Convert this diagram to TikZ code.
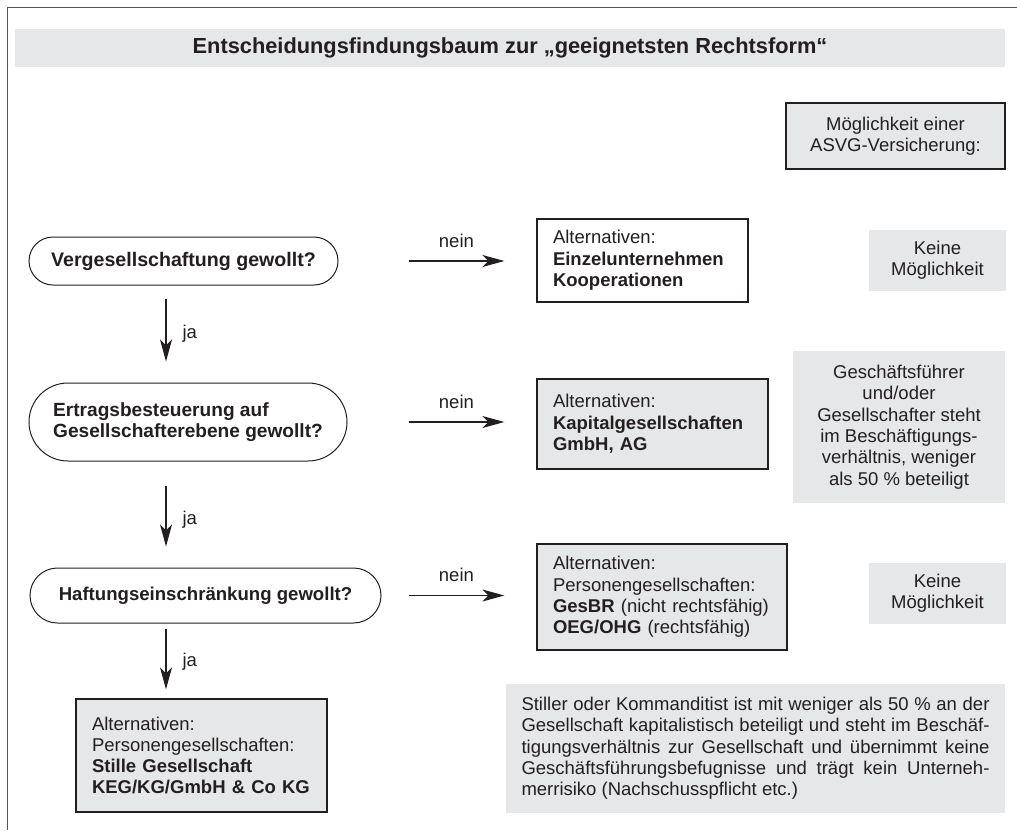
\documentclass[tikz,border=0pt]{standalone}
\usepackage{fontspec}
\setmainfont{Liberation Sans}
\usetikzlibrary{arrows.meta,calc}
\definecolor{boxgray}{HTML}{E6E7E8}
\definecolor{ink}{HTML}{231F20}
\definecolor{framegray}{HTML}{555555}
\tikzset{
  base/.style={font=\fontsize{18.5}{21.3}\selectfont, text=ink},
  question/.style={base, rectangle, draw=ink, line width=1pt, fill=white, inner xsep=0pt, inner ysep=0pt},
  altbox/.style={base, rectangle, draw=ink, line width=1.3pt, align=left, inner xsep=16pt, inner ysep=0pt},
  graybox/.style={altbox, fill=boxgray},
  whitebox/.style={altbox, fill=white},
  infobox/.style={base, rectangle, fill=boxgray, align=center, inner sep=0pt},
  arr/.style={draw=ink, line width=1.2pt, -{Stealth[length=22pt,width=12pt,inset=6pt]}},
  lbl/.style={base, inner sep=2pt},
}
\begin{document}
\begin{tikzpicture}[x=1pt,y=-1pt]
\useasboundingbox (0,0) rectangle (1017,830);
\draw[framegray, line width=1.8pt] (7.5,830) -- (7.5,7.5) -- (1017,7.5);

% title
\node[infobox, minimum width=990pt, minimum height=38pt, font=\fontsize{21.8}{26}\selectfont\bfseries] (title) at (510,48)
  {Entscheidungsfindungsbaum zur „geeignetsten Rechtsform“};

% right header
\node[graybox, align=center, minimum width=219pt, minimum height=66pt] (asvg) at (895.5,136)
  {Möglichkeit einer\\ASVG-Versicherung:};

% questions
\node[question, rounded corners=24pt, minimum width=309pt, minimum height=48pt,
      font=\fontsize{19.6}{21.5}\selectfont\bfseries] (q1) at (183.5,261) {Vergesellschaftung gewollt?};
\node[question, rounded corners=39pt, align=left, minimum width=318pt, minimum height=78pt,
      font=\fontsize{19.1}{20.5}\selectfont\bfseries] (q2) at (188,422) {Ertragsbesteuerung auf\\Gesellschafterebene gewollt?};
\node[question, rounded corners=27.5pt, minimum width=351pt, minimum height=55pt,
      font=\fontsize{18.6}{21}\selectfont\bfseries] (q3) at (205.5,595.5) {Haftungseinschränkung gewollt?};

% alternatives
\node[whitebox, text width=179pt, minimum height=83pt] (a1) at (642.5,260.5)
  {Alternativen:\\\textbf{Einzelunternehmen}\\\textbf{Kooperationen}};
\node[graybox, text width=199pt, minimum height=90pt] (a2) at (652.5,424)
  {Alternativen:\\\textbf{Kapitalgesellschaften}\\\textbf{GmbH, AG}};
\node[graybox, text width=218pt, minimum height=106pt] (a3) at (662,597)
  {Alternativen:\\Personengesellschaften:\\\textbf{GesBR}~(nicht~rechtsfähig)\\\textbf{OEG/OHG}~(rechtsfähig)};
\node[graybox, text width=219pt, minimum height=113pt] (a4) at (201.5,755.5)
  {Alternativen:\\Personengesellschaften:\\\textbf{Stille Gesellschaft}\\\textbf{KEG/KG/GmbH~\&~Co~KG}};

% ASVG info
\node[infobox, minimum width=137pt, minimum height=61pt] (k1) at (937.5,260.5) {Keine\\Möglichkeit};
\node[infobox, minimum width=212pt, minimum height=152pt] (gf) at (899,427)
  {Geschäftsführer\\und/oder\\Gesellschafter steht\\im Beschäftigungs-\\verhältnis, weniger\\als 50~\% beteiligt};
\node[infobox, minimum width=137pt, minimum height=61pt] (k2) at (937.5,593.5) {Keine\\Möglichkeit};
\node[infobox, align=left, minimum width=499pt, minimum height=129pt] (st) at (755.5,748.5)
  {\makebox[468pt][s]{Stiller oder Kommanditist ist mit weniger als 50~\% an der}\\
   \makebox[468pt][s]{Gesellschaft kapitalistisch beteiligt und steht im Beschäf-}\\
   \makebox[468pt][s]{tigungsverhältnis zur Gesellschaft und übernimmt keine}\\
   \makebox[468pt][s]{Geschäftsführungsbefugnisse und trägt kein Unterneh-}\\
   merrisiko (Nachschusspflicht etc.)};

% nein arrows
\draw[arr] ($(q1.east)+(70,0)$) -- ($(q1.east -| a1.west)+(-32,0)$)
  node[lbl, midway, anchor=base, yshift=14pt] {nein};
\draw[arr] ($(q2.east)+(61,0)$) -- ($(q2.east -| a2.west)+(-32,0)$)
  node[lbl, midway, anchor=base, yshift=14pt] {nein};
\draw[arr] ($(q3.east)+(27,0)$) -- ($(q3.east -| a3.west)+(-32,0)$)
  node[lbl, midway, anchor=base, yshift=14pt] {nein};

% ja arrows
\coordinate (jx) at (166,0);
\draw[arr] ($(q1.south -| jx)+(0,13)$) -- ($(q2.north -| jx)+(0,-21)$)
  node[lbl, midway, anchor=base west, xshift=14pt, yshift=-8pt] {ja};
\draw[arr] ($(q2.south -| jx)+(0,24)$) -- ($(q3.north -| jx)+(0,-21)$)
  node[lbl, midway, anchor=base west, xshift=14pt, yshift=-8pt] {ja};
\draw[arr] ($(q3.south -| jx)+(0,5)$) -- ($(a4.north -| jx)+(0,-9)$)
  node[lbl, midway, anchor=base west, xshift=14pt, yshift=-8pt] {ja};
\end{tikzpicture}
\end{document}
